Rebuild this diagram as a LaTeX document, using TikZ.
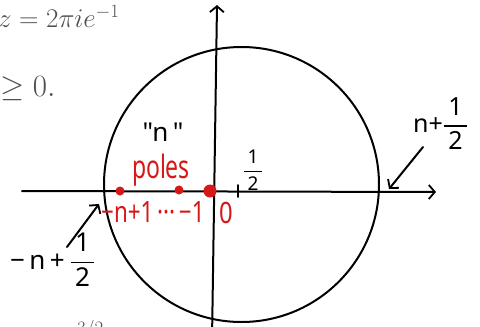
\RequirePackage{fix-cm}
\documentclass[tikz,border=0pt]{standalone}
\usepackage{amsmath}
\usepackage{graphicx}
\usepackage{fontspec}
\usetikzlibrary{arrows.meta}
\newfontfamily\hand{Noto Sans}
\definecolor{polered}{RGB}{214,24,24}
\definecolor{scan}{RGB}{80,80,80}
\newcommand\hfr[2]{\ensuremath{\genfrac{}{}{1.5pt}{0}{\text{\,#1\,}}{\text{\,#2\,}}}}
\begin{document}
\begin{tikzpicture}[x=1pt,y=-1pt,
  ink/.style={line width=2pt, black, line cap=round},
  barb/.style={-{Straight Barb[length=6pt,width=14pt,line width=1.8pt]}},
  pole/.style={circle, fill=polered, inner sep=0pt, minimum size=9pt},
  scantext/.style={font=\fontsize{27}{32}\selectfont, text=scan, inner sep=0pt},
  redlbl/.style={text=polered, inner sep=0pt, font=\hand\fontsize{28}{30}\selectfont},
  blklbl/.style={text=black, inner sep=0pt, font=\hand\fontsize{25}{28}\selectfont}]
\useasboundingbox (0,0) rectangle (480,327);
\clip (0,0) rectangle (480,327);
% printed text (scan)
\node[scantext, anchor=base west] (eq1) at (-2,27) {$z = 2\pi i e^{-1}$};
\node[scantext, anchor=base west, font=\fontsize{31}{36}\selectfont] (eq2) at (0,96) {$\geq 0.$};
\node[scantext, anchor=base west] (eq3) at (77,334) {$\scriptstyle 3/2$};
% circle
\node[draw, ink, circle, minimum size=275pt, inner sep=0pt] (C) at (241.5,184.5) {};
% axes
\coordinate (xl) at (22,191);
\coordinate (xr) at (436,192);
\coordinate (yb) at (212,340);
\coordinate (yt) at (217,5);
\draw[ink, barb] (xl) -- (xr);
\draw[ink, barb] (yb) -- (yt);
% tick at 1/2
\coordinate (t1) at (238,185);
\coordinate (t2) at (238,197);
\draw[ink, line width=1.6pt] (t1) -- (t2);
\node[blklbl, font=\hand\fontsize{19}{21}\selectfont] (half) at (253,170) {\hfr{1}{2}};
% poles
\node[pole] (p1) at (120,191) {};
\node[pole] (p2) at (179,190) {};
\node[pole, minimum size=13pt] (p0) at (210,191) {};
\node[redlbl, anchor=base] (poles) at (161,178) {\scalebox{0.82}[1.15]{poles}};
\node[blklbl, font=\hand\fontsize{26}{28}\selectfont] (nq) at (163,132) {"n\,"};
\node[redlbl, anchor=base west] (neg) at (101,222) {\scalebox{0.8}[1.05]{−n+1\,···\,−1}};
\node[redlbl, anchor=base] (zero) at (226,223) {\scalebox{0.85}[1.05]{0}};
% labels with arrows
\node[blklbl, anchor=base west] (rlab) at (413,132) {n+\hfr{1}{2}};
\node[blklbl, anchor=base west, font=\hand\fontsize{26}{30}\selectfont] (llab) at (10,269) {−\,n\,+\hspace{5pt}\hfr{1}{2}};
\coordinate (ra) at (423,147);
\coordinate (rb) at (389,189);
\draw[ink, barb] (ra) -- (rb);
\coordinate (la) at (67,247);
\coordinate (lb) at (99,204);
\draw[ink, barb] (la) -- (lb);
\end{tikzpicture}
\end{document}
